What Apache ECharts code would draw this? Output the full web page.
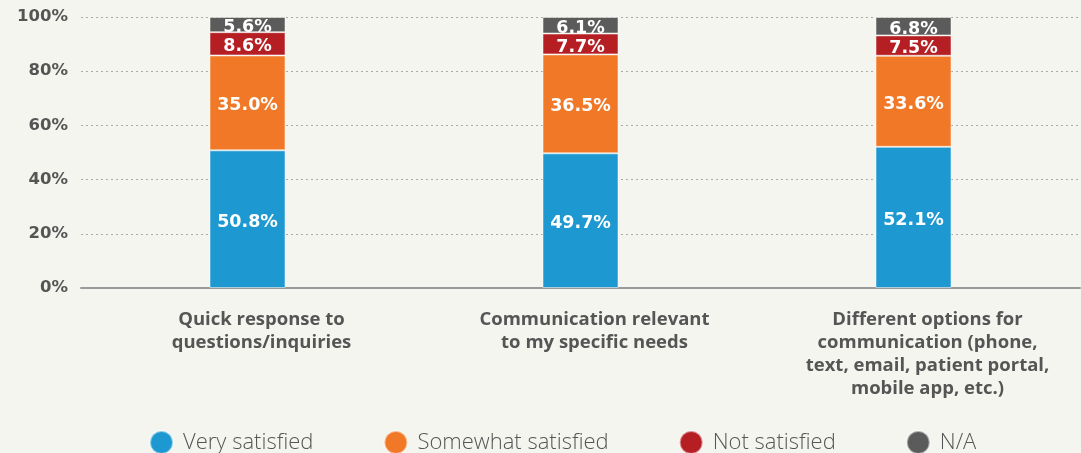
<!DOCTYPE html>
<html><head><meta charset="utf-8">
<script src="https://cdn.jsdelivr.net/npm/echarts@6/dist/echarts.min.js"></script>
<style>html,body{margin:0;padding:0;background:#f5f5f0}#c{width:1081px;height:453px}</style>
</head><body><div id="c"></div>
<script>
var categories = ["Quick response to\nquestions/inquiries", "Communication relevant\nto my specific needs", "Different options for\ncommunication (phone,\ntext, email, patient portal,\nmobile app, etc.)"];
var verySatisfied = [50.8, 49.7, 52.1];
var somewhatSatisfied = [35.0, 36.5, 33.6];
var notSatisfied = [8.6, 7.7, 7.5];
var na = [5.6, 6.1, 6.8];
var yTicks = [0, 20, 40, 60, 80, 100];

var numFont = '"DejaVu Sans", sans-serif';
var labFont = '"Open Sans", sans-serif';
function mk(name, data, color) {
  return {
    name: name, type: 'bar', stack: 'a', data: data, barWidth: 76,
    itemStyle: {color: color, borderColor: 'rgba(255,255,255,0.5)', borderWidth: 1},
    label: {show: true, position: 'inside', offset: [0, 3], color: '#fff', fontSize: 17.5, fontWeight: 'bold', fontFamily: numFont,
      formatter: function(p){return p.value.toFixed(1) + '%';}},
    emphasis: {disabled: true}
  };
}
var chart = echarts.init(document.getElementById('c'));
chart.setOption({
  backgroundColor: '#f5f5f0',
  animation: false,
  grid: {left: 81, right: 1, top: 17, bottom: 165},
  legend: {
    top: 430, left: 149, padding: 0, itemWidth: 23, itemHeight: 23, itemGap: 70, icon: 'circle',
    textStyle: {color: '#555', fontSize: 22, lineHeight: 23, fontFamily: labFont, fontWeight: 300, padding: [0, 0, 0, 5]},
    data: ['Very satisfied', 'Somewhat satisfied', 'Not satisfied', 'N/A']
  },
  xAxis: {
    type: 'category', data: categories,
    axisLine: {lineStyle: {color: '#9a9a9a', width: 2}},
    axisTick: {show: false},
    axisLabel: {color: '#555', fontSize: 18.5, fontWeight: 'bold', fontFamily: labFont, lineHeight: 23, margin: 20, interval: 0, padding: [0, 0, 0, 28]}
  },
  yAxis: {
    type: 'value', min: 0, max: 100, interval: 20,
    axisLabel: {color: '#555', fontSize: 16.5, fontWeight: 'bold', fontFamily: numFont, margin: 13,
      formatter: function(v){return yTicks.indexOf(v) >= 0 ? v + '%' : '';}},
    splitLine: {lineStyle: {color: '#aaa', type: [2, 3], width: 1}},
    axisLine: {show: false}, axisTick: {show: false}
  },
  series: [
    mk('Very satisfied', verySatisfied, '#1e98d0'),
    mk('Somewhat satisfied', somewhatSatisfied, '#f07826'),
    mk('Not satisfied', notSatisfied, '#b51f24'),
    mk('N/A', na, '#5b5b5b')
  ]
});
</script></body></html>
